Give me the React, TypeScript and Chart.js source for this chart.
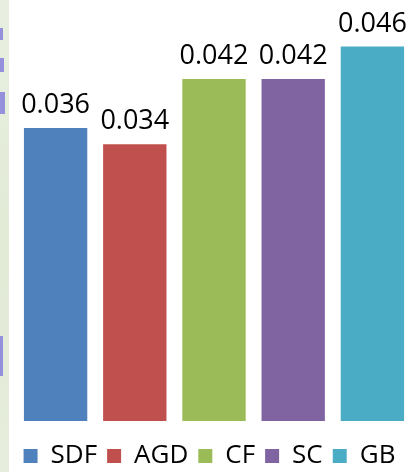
import React, { useEffect, useRef } from "react";
import { Chart, registerables } from "chart.js";

Chart.register(...registerables);

const categories = ["SDF", "AGD", "CF", "SC", "GB"];
const values = [0.036, 0.034, 0.042, 0.042, 0.046];
const colors = ["#4F81BD", "#C0504D", "#9BBB59", "#8064A2", "#4BACC6"];
const FONT = "'Open Sans', sans-serif";

const valueLabels = {
  id: "valueLabels",
  afterDatasetsDraw(chart: any) {
    const ctx = chart.ctx;
    const meta = chart.getDatasetMeta(0);
    ctx.save();
    ctx.font = `27px ${FONT}`;
    ctx.fillStyle = "#000";
    ctx.textAlign = "center";
    ctx.textBaseline = "alphabetic";
    meta.data.forEach((bar: any, i: number) => {
      ctx.fillText(values[i].toFixed(3), bar.x, bar.y - 15);
    });
    ctx.restore();
  },
};

const leftStrip = {
  id: "leftStrip",
  beforeDraw(chart: any) {
    const ctx = chart.ctx;
    ctx.save();
    const g = ctx.createLinearGradient(0, 0, 0, chart.height);
    g.addColorStop(0, "#e8efe0");
    g.addColorStop(0.5, "#e2ebd6");
    g.addColorStop(1, "#e6eddc");
    ctx.fillStyle = g;
    ctx.fillRect(0, 0, 9, chart.height);
    ctx.fillStyle = "#9590dc";
    ctx.fillRect(0, 28, 3, 12);
    ctx.fillRect(0, 58, 4, 14);
    ctx.fillRect(0, 92, 5, 22);
    ctx.fillRect(0, 336, 3, 40);
    ctx.restore();
  },
};

const spacer = (w: number, position: "left" | "right") => ({
  display: true,
  position,
  grid: { display: false, drawTicks: false },
  border: { display: false },
  ticks: { display: false },
  afterFit(scale: any) {
    scale.width = w;
  },
});

export default function App() {
  const ref = useRef<HTMLCanvasElement>(null);
  useEffect(() => {
    document.body.style.margin = "0";
    const chart = new Chart(ref.current!, {
      type: "bar",
      data: {
        labels: categories,
        datasets: [
          {
            label: "value",
            data: values,
            backgroundColor: colors,
            barPercentage: 0.8,
            categoryPercentage: 1,
          },
        ],
      },
      options: {
        animation: false,
        responsive: false,
        layout: { padding: { left: 0, right: 0, top: 14, bottom: -7 } },
        scales: {
          x: { display: false },
          y: { ...spacer(16, "left"), min: -0.00148, max: 0.05 },
          y2: { ...spacer(7, "right"), min: 0, max: 1 },
        },
        plugins: {
          tooltip: { enabled: false },
          legend: {
            position: "bottom",
            labels: {
              boxWidth: 14,
              boxHeight: 14,
              padding: 10,
              color: "#000",
              font: { family: FONT, size: 26 },
              generateLabels: () =>
                categories.map((c, i) => ({
                  text: c,
                  fillStyle: colors[i],
                  strokeStyle: colors[i],
                  lineWidth: 0,
                  hidden: false,
                  index: i,
                  datasetIndex: 0,
                })),
            },
          },
        },
      },
      plugins: [valueLabels, leftStrip],
    });
    return () => chart.destroy();
  }, []);
  return (
    <div style={{ width: 419, height: 472 }}>
      <canvas ref={ref} width={419} height={472} style={{ display: "block" }} />
    </div>
  );
}
